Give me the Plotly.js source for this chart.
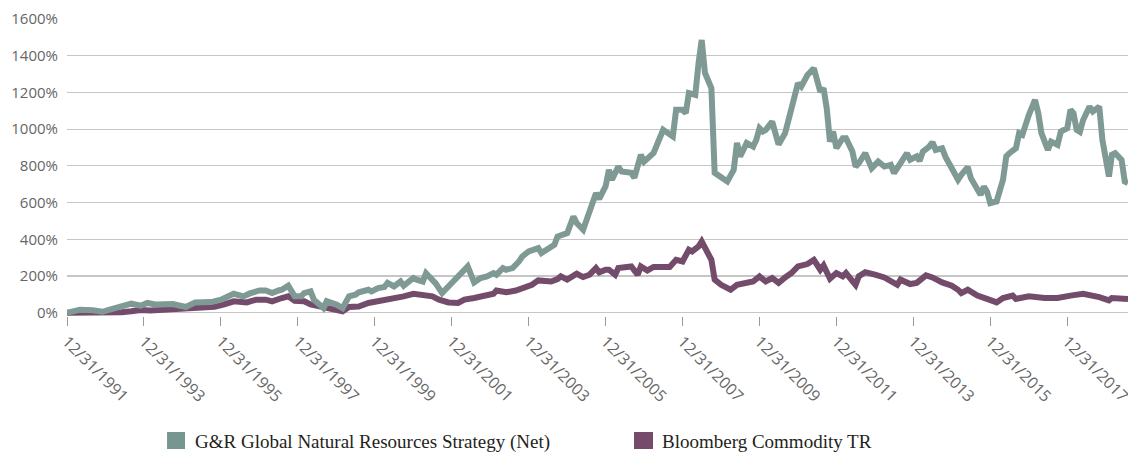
<!DOCTYPE html>
<html>
<head>
<meta charset="utf-8">
<script src="https://cdn.plot.ly/plotly-3.0.1.min.js"></script>
<style>
  html, body { margin: 0; padding: 0; background: #ffffff; }
  #chart { width: 1128px; height: 455px; }
</style>
</head>
<body>
<div id="chart"></div>
<script>
// ---- Data ----
const seriesNames = ["G&R Global Natural Resources Strategy (Net)", "Bloomberg Commodity TR"];

const grDates = ['1992-01','1992-05','1992-09','1992-12','1993-02','1993-06','1993-09','1993-12','1994-02','1994-05',
'1994-10','1995-02','1995-05','1995-10','1996-01','1996-05','1996-08','1996-10','1997-01','1997-03',
'1997-05','1997-07','1997-08','1997-10','1997-12','1998-02','1998-03','1998-05','1998-06','1998-09',
'1998-10','1999-01','1999-03','1999-05','1999-07','1999-08','1999-11','1999-12','2000-02','2000-04',
'2000-05','2000-07','2000-09','2000-10','2001-01','2001-02','2001-04','2001-05','2001-08','2001-10',
'2001-12','2002-01','2002-04','2002-06','2002-08','2002-10','2002-12','2003-02','2003-03','2003-05',
'2003-06','2003-08','2003-10','2003-11','2004-01','2004-02','2004-04','2004-05','2004-08','2004-09',
'2004-10','2004-12','2005-01','2005-03','2005-04','2005-06','2005-07','2005-09','2005-10','2005-11',
'2006-01','2006-02','2006-03','2006-05','2006-06','2006-09','2006-10','2006-12','2007-01','2007-04',
'2007-06','2007-07','2007-10','2007-11','2008-01','2008-02','2008-03','2008-05','2008-06','2008-07',
'2008-08','2008-10','2008-11','2009-01','2009-03','2009-05','2009-06','2009-07','2009-09','2009-11',
'2009-12','2010-01','2010-02','2010-03','2010-05','2010-07','2010-09','2010-11','2011-01','2011-02',
'2011-04','2011-06','2011-07','2011-08','2011-09','2011-10','2011-11','2011-12','2012-01','2012-03',
'2012-04','2012-06','2012-07','2012-08','2012-10','2012-12','2013-02','2013-04','2013-06','2013-07',
'2013-09','2013-11','2013-12','2014-02','2014-03','2014-04','2014-06','2014-07','2014-08','2014-10',
'2014-11','2015-01','2015-03','2015-04','2015-06','2015-07','2015-09','2015-10','2015-11','2015-12',
'2016-01','2016-03','2016-05','2016-06','2016-07','2016-09','2016-10','2016-11','2017-01','2017-03',
'2017-04','2017-05','2017-07','2017-08','2017-10','2017-11','2018-01','2018-02','2018-03','2018-04',
'2018-05','2018-06','2018-08','2018-09','2018-11','2018-12','2019-01','2019-02','2019-03','2019-04',
'2019-06','2019-07','2019-08'];

const grValues = [0,16,13,5,16,34,49,38,53,44,
47,31,56,58,71,103,89,105,121,121,
107,121,125,147,89,89,107,116,71,25,
62,44,25,89,98,111,125,116,134,140,
162,143,170,147,189,180,170,215,160,107,
143,162,216,252,165,189,198,216,207,243,
234,243,279,306,334,343,352,325,361,370,
415,424,434,524,488,452,506,597,651,620,
690,778,724,796,769,762,735,860,823,870,
969,996,960,1105,1105,1088,1196,1186,1360,1486,
1306,1223,762,735,715,778,925,851,925,905,
941,1005,987,996,1041,916,978,1114,1250,1232,
1295,1332,1268,1204,1223,1114,932,987,896,951,
951,878,796,815,869,787,823,796,805,760,
815,869,833,851,827,878,905,929,887,896,
850,787,724,751,793,733,678,642,687,660,
597,606,724,851,869,896,978,969,1077,1159,
1087,978,887,932,914,987,1005,1105,1087,996,
985,1050,1123,1096,1123,941,842,742,860,869,
833,715,706];

const bcomDates = ['1992-01','1992-05','1992-09','1993-01','1993-06','1993-09','1993-12','1994-03','1994-08','1994-12',
'1995-05','1995-08','1995-11','1996-02','1996-05','1996-09','1996-12','1997-03','1997-05','1997-08',
'1997-10','1997-12','1998-03','1998-05','1998-09','1998-12','1999-03','1999-05','1999-08','1999-11',
'2000-02','2000-05','2000-08','2000-10','2001-01','2001-04','2001-07','2001-09','2001-12','2002-03',
'2002-05','2002-08','2002-11','2003-02','2003-03','2003-06','2003-09','2003-11','2004-02','2004-04',
'2004-06','2004-08','2004-10','2004-11','2005-01','2005-02','2005-04','2005-06','2005-08','2005-10',
'2005-11','2006-01','2006-02','2006-04','2006-05','2006-09','2006-11','2006-12','2007-02','2007-04',
'2007-07','2007-09','2007-11','2008-01','2008-03','2008-04','2008-06','2008-07','2008-10','2008-11',
'2009-01','2009-04','2009-06','2009-08','2009-11','2010-01','2010-03','2010-05','2010-07','2010-09',
'2010-11','2011-01','2011-04','2011-06','2011-08','2011-09','2011-11','2012-01','2012-03','2012-04',
'2012-07','2012-08','2012-10','2013-01','2013-04','2013-08','2013-09','2013-12','2014-02','2014-05',
'2014-07','2014-10','2015-01','2015-03','2015-04','2015-06','2015-07','2015-09','2015-12','2016-03',
'2016-05','2016-08','2016-09','2017-01','2017-06','2017-10','2018-02','2018-06','2018-11','2019-02',
'2019-03','2019-06','2019-08'];

const bcomValues = [0,0,3,-2,3,8,15,12,18,20,
25,25,32,45,62,56,71,71,62,80,
89,65,62,45,31,25,7,31,34,53,
62,75,80,89,103,98,89,71,56,53,
71,80,93,103,121,111,121,134,152,176,
176,170,183,198,180,189,212,194,207,243,
220,234,234,207,243,252,207,252,230,249,
252,249,288,279,343,334,361,388,288,180,
152,125,152,162,170,198,170,189,162,192,
216,252,265,288,234,257,185,216,198,216,
152,198,221,207,192,152,180,156,162,203,
192,165,147,125,107,125,116,93,75,56,
80,93,75,89,80,80,93,103,85,67,
80,80,75];

const tickDates = ['1991-12-31','1993-12-31','1995-12-31','1997-12-31','1999-12-31','2001-12-31','2003-12-31',
'2005-12-31','2007-12-31','2009-12-31','2011-12-31','2013-12-31','2015-12-31','2017-12-31'];
const tickLabels = ['12/31/1991','12/31/1993','12/31/1995','12/31/1997','12/31/1999','12/31/2001','12/31/2003',
'12/31/2005','12/31/2007','12/31/2009','12/31/2011','12/31/2013','12/31/2015','12/31/2017'];
const yTicks = [0,200,400,600,800,1000,1200,1400,1600];
const yTickLabels = yTicks.map(v => v + '%');

// ---- Styles ----
const greenColor = '#7f9a94';
const purpleColor = '#744c6b';
const axisFont = {family: 'Open Sans, sans-serif', size: 15, color: '#666666', weight: 400};
const xAxisFont = {family: 'Open Sans, sans-serif', size: 16, color: '#666666', weight: 400};
const legendFont = {family: 'Liberation Serif, serif', size: 19, color: '#231f20'};

const traces = [
  {x: bcomDates, y: bcomValues, type: 'scatter', mode: 'lines', name: seriesNames[1],
   line: {color: purpleColor, width: 6}, hoverinfo: 'skip'},
  {x: grDates, y: grValues, type: 'scatter', mode: 'lines', name: seriesNames[0],
   line: {color: greenColor, width: 6}, hoverinfo: 'skip'}
];

const layout = {
  width: 1128, height: 455,
  margin: {l: 67, r: 0, t: 19, b: 139},
  paper_bgcolor: '#ffffff', plot_bgcolor: '#ffffff',
  showlegend: false,
  xaxis: {
    type: 'date',
    range: ['1991-12-31', '2019-08-01'],
    tickmode: 'array', tickvals: tickDates, ticktext: tickLabels,
    tickangle: 45,
    ticklabeloverflow: 'allow',
    ticks: 'outside', ticklen: 9, tickwidth: 1, tickcolor: '#9a9a9a',
    showgrid: false, showline: false, zeroline: false,
    tickfont: xAxisFont
  },
  yaxis: {
    range: [-18, 1600],
    tickmode: 'array', tickvals: yTicks, ticktext: yTickLabels,
    showgrid: true, gridcolor: '#c6c6c6', gridwidth: 1.2,
    zeroline: true, zerolinecolor: '#c6c6c6', zerolinewidth: 1.5,
    showline: false, ticks: '',
    ticklabelstandoff: 8,
    tickfont: axisFont
  },
  shapes: [
    {type: 'rect', xref: 'paper', yref: 'paper', x0: 0.0943, x1: 0.1112, y0: -0.4478, y1: -0.3906,
     fillcolor: '#76968f', line: {width: 0}},
    {type: 'rect', xref: 'paper', yref: 'paper', x0: 0.5344, x1: 0.5523, y0: -0.4478, y1: -0.3906,
     fillcolor: '#744b6a', line: {width: 0}}
  ],
  annotations: [
    {xref: 'paper', yref: 'paper', x: 0.1188, y: -0.4242, xanchor: 'left', yanchor: 'middle',
     text: seriesNames[0], showarrow: false, font: legendFont},
    {xref: 'paper', yref: 'paper', x: 0.5589, y: -0.4242, xanchor: 'left', yanchor: 'middle',
     text: seriesNames[1], showarrow: false, font: legendFont}
  ]
};

Plotly.newPlot('chart', traces, layout, {displayModeBar: false, staticPlot: true});
</script>
</body>
</html>
